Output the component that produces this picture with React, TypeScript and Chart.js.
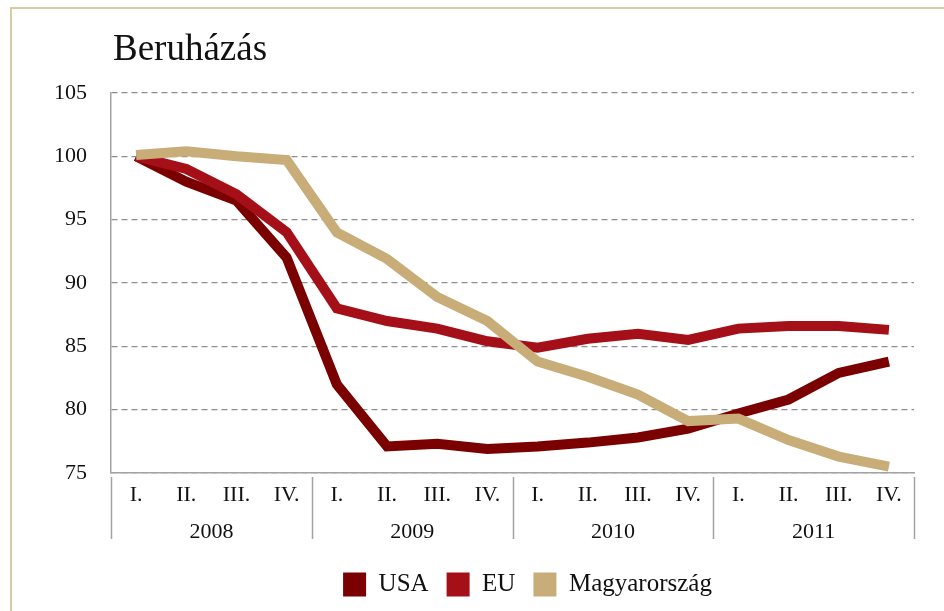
import React, { useEffect, useRef } from "react";
import { Chart, registerables } from "chart.js";

Chart.register(...registerables);

const TITLE = "Beruházás";
const QUARTERS = ["I.", "II.", "III.", "IV.", "I.", "II.", "III.", "IV.", "I.", "II.", "III.", "IV.", "I.", "II.", "III.", "IV."];
const YEARS = ["2008", "2009", "2010", "2011"];
const SERIES_NAMES = ["USA", "EU", "Magyarország"];
const USA = [100, 98.0, 96.5, 92.0, 82.0, 77.1, 77.3, 76.9, 77.1, 77.4, 77.8, 78.5, 79.7, 80.8, 82.9, 83.8];
const EU = [100, 99.0, 97.0, 94.0, 88.0, 87.0, 86.4, 85.4, 84.9, 85.6, 86.0, 85.5, 86.4, 86.6, 86.6, 86.3];
const HU = [100.1, 100.4, 100.0, 99.7, 94.0, 91.9, 88.9, 87.0, 83.8, 82.6, 81.2, 79.1, 79.3, 77.6, 76.3, 75.5];
const Y_MIN = 75;
const Y_MAX = 105;
const Y_STEP = 5;

const COLORS = ["#7b0000", "#a50f17", "#c9ad78"];
const FONT = "'Liberation Serif', 'Times New Roman', serif";
const AXIS_GRAY = "#a3a3a3";

const titlePlugin = {
  id: "leftTitle",
  afterDraw(chart: any) {
    const ctx = chart.ctx;
    ctx.save();
    ctx.font = `37px ${FONT}`;
    ctx.fillStyle = "#111";
    ctx.textBaseline = "alphabetic";
    ctx.textAlign = "left";
    ctx.fillText(TITLE, chart.chartArea.left + 2, 60);
    ctx.restore();
  },
};

const separatorPlugin = {
  id: "yearSeparators",
  afterDraw(chart: any) {
    const xs = chart.scales.x;
    const x2 = chart.scales.x2;
    const ctx = chart.ctx;
    ctx.save();
    ctx.strokeStyle = AXIS_GRAY;
    ctx.lineWidth = 1.5;
    for (let i = 0; i <= QUARTERS.length; i += 4) {
      const px = Math.round(xs.getPixelForValue(i - 0.5)) + 0.5;
      ctx.beginPath();
      ctx.moveTo(px, xs.top + 4);
      ctx.lineTo(px, x2.top + 32);
      ctx.stroke();
    }
    ctx.restore();
  },
};

const legendShiftPlugin = {
  id: "legendShift",
  afterLayout(chart: any) {
    const lg = chart.legend;
    if (!lg) return;
    const w = lg.right - lg.left;
    lg.left = chart.chartArea.left + 30;
    lg.right = chart.chartArea.right;
    lg.width = lg.right - lg.left;
    if (lg.width < 0) lg.width = w;
  },
};

export default function App() {
  const ref = useRef<HTMLCanvasElement>(null);

  useEffect(() => {
    if (!ref.current) return;
    const data = [USA, EU, HU];
    const orders = [3, 2, 1];
    const chart = new Chart(ref.current, {
      type: "line",
      data: {
        labels: QUARTERS,
        datasets: SERIES_NAMES.map((name, i) => ({
          label: name,
          data: data[i],
          borderColor: COLORS[i],
          backgroundColor: COLORS[i],
          borderWidth: 10,
          pointRadius: 0,
          tension: 0,
          borderJoinStyle: "miter" as const,
          borderCapStyle: "butt" as const,
          order: orders[i],
          fill: false,
        })),
      },
      options: {
        responsive: false,
        animation: false,
        layout: { padding: { left: 20, right: 30, top: 93, bottom: 4 } },
        scales: {
          x: {
            type: "category",
            offset: true,
            grid: { display: false, drawTicks: false },
            border: { display: true, color: AXIS_GRAY, width: 1.5 },
            ticks: { font: { family: FONT, size: 22 }, color: "#111", padding: 9, maxRotation: 0, autoSkip: false },
            afterFit: (s: any) => { s.height = 34; },
          },
          x2: {
            type: "category",
            position: "bottom",
            labels: YEARS,
            offset: true,
            grid: { display: false, drawTicks: false },
            border: { display: false },
            ticks: { font: { family: FONT, size: 22 }, color: "#111", padding: 12, maxRotation: 0 },
            afterFit: (s: any) => { s.height = 47; },
          },
          y: {
            min: Y_MIN,
            max: Y_MAX,
            ticks: { stepSize: Y_STEP, font: { family: FONT, size: 22 }, color: "#111", padding: 24 },
            grid: { color: "#8f8f8f", lineWidth: 1.2, drawTicks: false },
            border: { display: true, color: AXIS_GRAY, width: 1.5, dash: [6, 4] },
            afterFit: (s: any) => { s.width = 91; },
          },
        },
        plugins: {
          title: { display: false },
          tooltip: { enabled: false },
          legend: {
            display: true,
            position: "bottom",
            labels: {
              boxWidth: 23,
              boxHeight: 24,
              padding: 18,
              color: "#111",
              font: { family: FONT, size: 25 },
              sort: (a: any, b: any) => a.datasetIndex - b.datasetIndex,
              generateLabels: (c: any) =>
                Chart.defaults.plugins.legend.labels.generateLabels(c).map((l: any) => ({
                  ...l,
                  lineWidth: 0,
                  fillStyle: COLORS[l.datasetIndex],
                  strokeStyle: COLORS[l.datasetIndex],
                })),
            },
          },
        },
      },
      plugins: [titlePlugin, separatorPlugin, legendShiftPlugin],
    } as any);
    return () => chart.destroy();
  }, []);

  return (
    <div style={{ position: "fixed", left: 0, top: 0, width: 944, height: 611, background: "#fff", overflow: "hidden" }}>
      <div
        style={{
          position: "absolute",
          left: 10,
          top: 7,
          width: 944,
          height: 620,
          borderTop: "2px solid #d9cb9e",
          borderLeft: "2px solid #d9cb9e",
        }}
      />
      <canvas ref={ref} width={944} height={611} style={{ position: "absolute", left: 0, top: 0, width: 944, height: 611 }} />
    </div>
  );
}
